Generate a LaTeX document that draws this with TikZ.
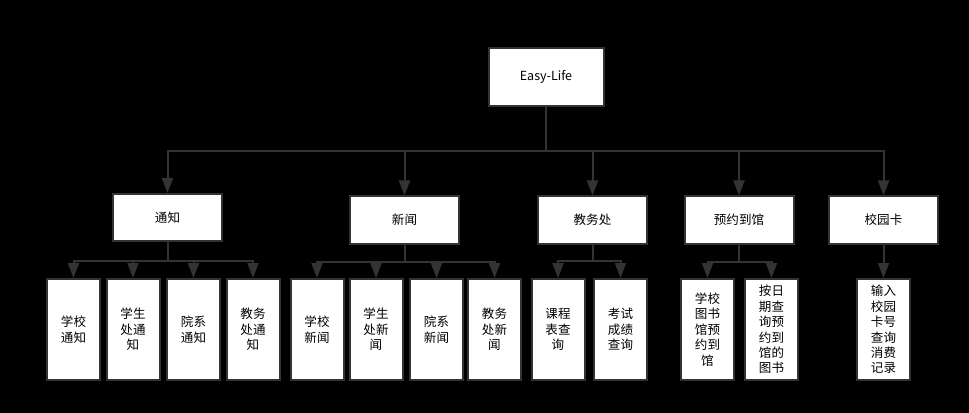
\documentclass[tikz,border=0pt]{standalone}
\usepackage{fontspec}
\setmainfont{Noto Sans CJK SC}
\usetikzlibrary{arrows.meta}
\definecolor{lc}{HTML}{333333}
\tikzset{
  box/.style={draw=lc, line width=1.5pt, fill=white, inner sep=0pt, align=center,
    font=\fontsize{9.4}{11.6}\selectfont},
  topbox/.style={box, minimum width=115*0.75pt, minimum height=58*0.75pt},
  midbox/.style={box, minimum width=109*0.75pt, minimum height=47*0.75pt},
  leafbox/.style={box, minimum width=53*0.75pt, minimum height=101*0.75pt},
  conn/.style={draw=lc, line width=1.5pt},
  arr/.style={conn, -{Triangle[length=15*0.75pt,width=11*0.75pt]}},
}
\begin{document}
\begin{tikzpicture}[x=0.75pt,y=-0.75pt]
\fill[black] (0,0) rectangle (969,413);
\useasboundingbox (0,0) rectangle (969,413);

\node[topbox] (root) at (546,77) {Easy-Life};

\node[midbox] (tz) at (167.5,217.5) {通知};
\node[midbox] (xw) at (404.5,220) {新闻};
\node[midbox] (jw) at (592.5,220) {教务处};
\node[midbox] (yy) at (739,220) {预约到馆};
\node[midbox] (xy) at (883.5,220) {校园卡};

\coordinate (bus) at (546,151);
\draw[conn] (root.south) -- (bus);
\foreach \c in {tz,xw,jw,yy,xy} \draw[arr] (bus) -| (\c.north);

% leaves
\node[leafbox] (tz1) at (73.5,329.5) {学校\\通知};
\node[leafbox] (tz2) at (133,329.5) {学生\\处通\\知};
\node[leafbox] (tz3) at (193.5,329.5) {院系\\通知};
\node[leafbox] (tz4) at (253,329.5) {教务\\处通\\知};

\node[leafbox] (xw1) at (317,329.5) {学校\\新闻};
\node[leafbox] (xw2) at (376,329.5) {学生\\处新\\闻};
\node[leafbox] (xw3) at (436.5,329.5) {院系\\新闻};
\node[leafbox] (xw4) at (494.5,329.5) {教务\\处新\\闻};

\node[leafbox] (jw1) at (558,329.5) {课程\\表查\\询};
\node[leafbox] (jw2) at (620.5,329.5) {考试\\成绩\\查询};

\node[leafbox] (yy1) at (707.5,329.5) {学校\\图书\\馆预\\约到\\馆};
\node[leafbox] (yy2) at (771.5,329.5) {按日\\期查\\询预\\约到\\馆的\\图书};

\node[leafbox] (xy1) at (883.5,329.5) {输入\\校园\\卡号\\查询\\消费\\记录};

\coordinate (btz) at (167.5,261);
\coordinate (bxw) at (404.5,262);
\coordinate (bjw) at (592.5,261);
\coordinate (byy) at (739,262);

\draw[conn] (tz.south) -- (btz);
\foreach \c in {tz1,tz2,tz3,tz4} \draw[arr] (btz) -| (\c.north);
\draw[conn] (xw.south) -- (bxw);
\foreach \c in {xw1,xw2,xw3,xw4} \draw[arr] (bxw) -| (\c.north);
\draw[conn] (jw.south) -- (bjw);
\foreach \c in {jw1,jw2} \draw[arr] (bjw) -| (\c.north);
\draw[conn] (yy.south) -- (byy);
\foreach \c in {yy1,yy2} \draw[arr] (byy) -| (\c.north);
\draw[arr] (xy.south) -- (xy1.north);
\end{tikzpicture}
\end{document}
